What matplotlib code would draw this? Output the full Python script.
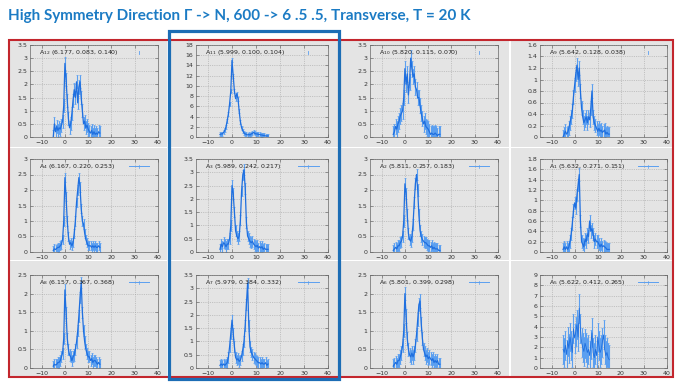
import numpy as np
import matplotlib
matplotlib.use('Agg')
import matplotlib.pyplot as plt
from matplotlib.patches import Rectangle

# energy grid (meV) shared by all panels
energy = [-5, -4.5, -4, -3.5, -3, -2.5, -2, -1.5, -1, -0.5,
          0, 0.5, 1, 1.5, 2, 2.5, 3, 3.5, 4, 4.5,
          5, 5.5, 6, 6.5, 7, 7.5, 8, 8.5, 9, 9.5,
          10, 10.5, 11, 11.5, 12, 12.5, 13, 13.5, 14, 14.5,
          15]

a12 = [0.0, 0.5, 0.2, 0.4, 0.25, 0.35, 0.3, 0.45, 0.6, 1.2,
       2.8, 2.2, 1.4, 0.7, 0.35, 0.5, 0.9, 1.4, 1.8, 1.5,
       2.1, 1.3, 1.9, 2.1, 1.5, 1.0, 0.5, 0.6, 0.35, 0.45,
       0.3, 0.2, 0.15, 0.25, 0.1, 0.2, 0.1, 0.15, 0.1, 0.2,
       0.15]
a11 = [0.5, 0.6, 0.6, 0.9, 1.3, 2.0, 3.2, 4.5, 6.5, 9.0,
       15.0, 12.0, 9.0, 7.5, 8.5, 7.5, 5.0, 3.0, 1.8, 1.2,
       0.8, 0.6, 0.5, 0.4, 0.5, 0.4, 0.6, 0.7, 0.9, 0.7,
       0.6, 0.6, 0.5, 0.5, 0.4, 0.4, 0.3, 0.3, 0.2, 0.2,
       0.2]
a10 = [0.1, 0.2, 0.4, 0.3, 0.5, 0.6, 0.8, 0.9, 1.0, 1.5,
       2.6, 2.0, 2.4, 1.6, 2.1, 3.0, 2.6, 2.3, 2.4, 1.9,
       1.8, 1.5, 1.5, 1.2, 0.9, 0.7, 0.5, 0.6, 0.4, 0.35,
       0.3, 0.2, 0.1, 0.15, 0.1, 0.1, 0.15, 0.1, 0.05, 0.1,
       0.1]
a9 = [0.0, 0.05, 0.1, 0.05, 0.08, 0.15, 0.25, 0.35, 0.45, 0.7,
      0.9, 1.1, 1.25, 1.0, 1.2, 0.8, 0.5, 0.35, 0.25, 0.3,
      0.35, 0.25, 0.35, 0.3, 0.5, 0.8, 0.35, 0.25, 0.2, 0.15,
      0.1, 0.15, 0.1, 0.12, 0.08, 0.1, 0.12, 0.05, 0.08, 0.05,
      0.05]
a4 = [0.05, 0.1, 0.08, 0.12, 0.15, 0.15, 0.2, 0.25, 0.4, 1.0,
      2.4, 1.8, 1.0, 0.5, 0.25, 0.3, 0.2, 0.3, 0.6, 1.0,
      1.6, 2.0, 2.4, 2.1, 1.4, 1.0, 0.9, 0.6, 0.4, 0.3,
      0.2, 0.2, 0.2, 0.15, 0.2, 0.15, 0.2, 0.15, 0.15, 0.2,
      0.15]
a3 = [0.1, 0.3, 0.2, 0.35, 0.3, 0.2, 0.3, 0.3, 0.5, 1.0,
      2.5, 2.2, 1.5, 0.8, 0.6, 0.5, 0.6, 1.2, 2.3, 2.9,
      3.1, 2.4, 1.1, 0.6, 0.5, 0.4, 0.35, 0.4, 0.3, 0.25,
      0.2, 0.25, 0.15, 0.2, 0.15, 0.2, 0.1, 0.15, 0.1, 0.1,
      0.1]
a2 = [0.05, 0.1, 0.15, 0.1, 0.2, 0.2, 0.3, 0.35, 0.5, 1.0,
      2.2, 1.9, 1.2, 0.6, 0.4, 0.35, 0.5, 0.9, 1.6, 2.2,
      2.5, 2.0, 1.2, 0.7, 0.5, 0.4, 0.35, 0.3, 0.3, 0.25,
      0.2, 0.2, 0.15, 0.2, 0.1, 0.15, 0.1, 0.1, 0.1, 0.05,
      0.05]
a1 = [0.05, 0.1, 0.05, 0.1, 0.05, 0.1, 0.2, 0.35, 0.55, 0.8,
      0.95, 0.85, 1.1, 1.3, 1.5, 0.6, 0.2, 0.15, 0.1, 0.25,
      0.2, 0.35, 0.3, 0.6, 0.4, 0.45, 0.35, 0.2, 0.25, 0.2,
      0.2, 0.15, 0.1, 0.15, 0.1, 0.12, 0.1, 0.08, 0.05, 0.05,
      0.05]
a8 = [0.05, 0.1, 0.08, 0.1, 0.15, 0.15, 0.2, 0.3, 0.4, 0.8,
      2.1, 1.5, 0.8, 0.5, 0.35, 0.3, 0.2, 0.3, 0.35, 0.5,
      0.7, 1.0, 1.4, 1.9, 2.3, 1.5, 1.0, 0.7, 0.5, 0.4,
      0.3, 0.3, 0.2, 0.25, 0.15, 0.2, 0.2, 0.15, 0.1, 0.15,
      0.1]
a7 = [0.1, 0.15, 0.1, 0.15, 0.1, 0.15, 0.2, 0.4, 0.8, 1.3,
      1.8, 1.3, 0.8, 0.4, 0.3, 0.35, 0.25, 0.3, 0.45, 0.7,
      1.0, 1.6, 2.4, 3.2, 1.6, 0.8, 0.6, 0.5, 0.4, 0.35,
      0.3, 0.25, 0.2, 0.2, 0.15, 0.2, 0.15, 0.15, 0.2, 0.1,
      0.15]
a6 = [0.05, 0.1, 0.15, 0.1, 0.2, 0.2, 0.3, 0.4, 0.6, 1.0,
      2.0, 1.4, 0.8, 0.5, 0.35, 0.3, 0.4, 0.3, 0.4, 0.6,
      0.9, 1.3, 1.7, 1.8, 1.2, 0.8, 0.5, 0.4, 0.3, 0.35,
      0.25, 0.3, 0.25, 0.2, 0.25, 0.15, 0.2, 0.15, 0.2, 0.1,
      0.1]
a5 = [1.8, 1.5, 2.2, 1.3, 2.6, 1.9, 3.0, 2.2, 1.5, 3.8,
      2.9, 3.5, 4.2, 3.0, 5.8, 3.8, 2.5, 2.0, 1.6, 2.4,
      2.0, 1.5, 1.8, 1.2, 2.3, 3.4, 1.5, 1.0, 1.8, 1.2,
      3.0, 2.2, 1.5, 1.8, 2.5, 3.2, 1.8, 1.2, 1.5, 1.0,
      0.8]

# row-major panel order as on the slide
names = ['12', '11', '10', '9', '4', '3', '2', '1', '8', '7', '6', '5']
params = ['(6.177, 0.083, 0.140)', '(5.999, 0.100, 0.104)',
          '(5.820, 0.115, 0.070)', '(5.642, 0.128, 0.038)',
          '(6.167, 0.220, 0.253)', '(5.989, 0.242, 0.217)',
          '(5.811, 0.257, 0.183)', '(5.632, 0.271, 0.151)',
          '(6.157, 0.367, 0.368)', '(5.979, 0.384, 0.332)',
          '(5.801, 0.399, 0.298)', '(5.622, 0.412, 0.265)']
series = [a12, a11, a10, a9, a4, a3, a2, a1, a8, a7, a6, a5]
errs = [0.25, 0.4, 0.3, 0.12, 0.15, 0.2, 0.18, 0.12, 0.15, 0.2, 0.18, 1.4]
ymax = [3.5, 18, 3.5, 1.6, 3, 3.5, 3, 1.8, 2.5, 3.5, 2.5, 9]
ystep = [0.5, 2, 0.5, 0.2, 0.5, 0.5, 0.5, 0.2, 0.5, 0.5, 0.5, 1]

W, H = 681, 383
fig = plt.figure(figsize=(W / 100, H / 100), dpi=100)
fig.patch.set_facecolor('white')

def frac(l, t, r, b):
    return [l / W, 1 - b / H, (r - l) / W, (b - t) / H]

col_frames = [(30, 158), (196, 328), (370, 498), (540, 667)]
row_frames = [(45, 137), (159, 252), (275, 368)]
col_panels = [(10, 167), (171, 338), (341, 509), (511, 672)]
row_panels = [(41, 147), (148, 260), (261, 377)]

for (pl, pr) in col_panels:
    for (pt, pb) in row_panels:
        l, b, w, h = frac(pl, pt, pr, pb)
        fig.patches.append(Rectangle((l, b), w, h, transform=fig.transFigure,
                                     facecolor='#e4e4e4', edgecolor='none', zorder=-1))

line_c = '#1f6fdf'
err_c = '#5b9ff0'

for i in range(12):
    r, c = divmod(i, 4)
    ax = fig.add_axes(frac(col_frames[c][0], row_frames[r][0],
                           col_frames[c][1], row_frames[r][1]))
    ax.set_facecolor('none')
    y = np.array(series[i])
    lw = 0.6 if i == 11 else 0.9
    ax.errorbar(energy, y, yerr=errs[i], color=line_c, ecolor=err_c,
                lw=lw, elinewidth=0.8, capsize=0.8, capthick=0.5)
    ax.set_xlim(-15, 40)
    ax.set_ylim(0, ymax[i])
    ax.set_xticks([-10, 0, 10, 20, 30, 40])
    yt = np.arange(0, ymax[i] + ystep[i] / 2, ystep[i])
    ax.set_yticks(yt)
    ax.set_yticklabels(['%g' % v for v in yt])
    ax.tick_params(direction='in', top=True, right=True, length=2, width=0.4,
                   labelsize=4.5, labelcolor='#333333', color='#555555', pad=2)
    ax.grid(True, ls=(0, (2, 2)), color='#a5a5a5', lw=0.4)
    for s in ax.spines.values():
        s.set_linewidth(0.5)
        s.set_color('#666666')
    ax.text(0.07, 0.92, 'A$_{%s}$ %s' % (names[i], params[i]), transform=ax.transAxes,
            fontsize=4.5, color='#222222', va='center', ha='left')
    if r == 0:
        ax.plot([0.85, 0.85], [0.905, 0.935], transform=ax.transAxes,
                color=err_c, lw=0.6)
    else:
        ax.plot([0.77, 0.93], [0.92, 0.92], transform=ax.transAxes,
                color=err_c, lw=0.7)
        ax.plot([0.85, 0.85], [0.90, 0.94], transform=ax.transAxes,
                color=err_c, lw=0.5)

# highlight boxes
l, b, w, h = frac(9, 40, 673, 377)
fig.patches.append(Rectangle((l, b), w, h, transform=fig.transFigure,
                             facecolor='none', edgecolor='#c3262d', lw=1.5, zorder=10))
l, b, w, h = frac(169, 31, 339, 379)
fig.patches.append(Rectangle((l, b), w, h, transform=fig.transFigure,
                             facecolor='none', edgecolor='#1c6db5', lw=2.3, zorder=11))

fig.text(8 / W, 1 - 16 / H, 'High Symmetry Direction Γ -> N, 600 -> 6 .5 .5, Transverse, T = 20 K',
         fontsize=11, fontweight='bold', family=['Lato', 'DejaVu Sans'],
         color='#1b7bc4', va='center', ha='left')

fig.savefig('out.png', dpi=100)
